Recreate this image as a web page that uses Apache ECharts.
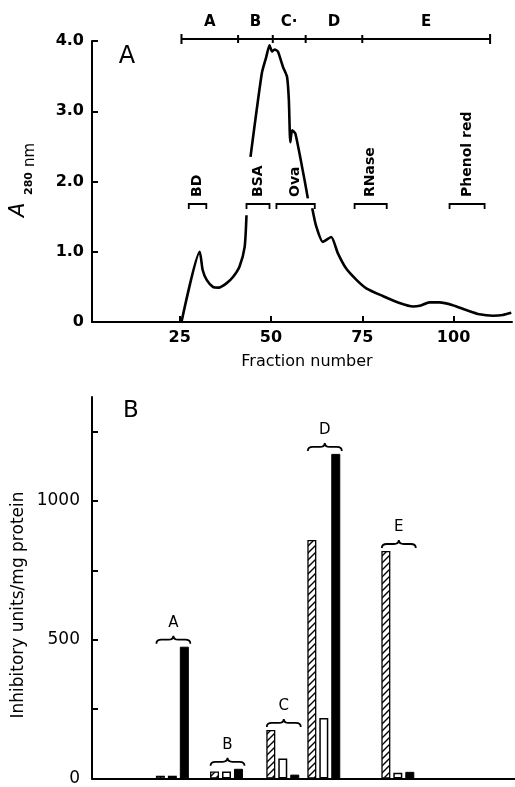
<!DOCTYPE html>
<html><head><meta charset="utf-8">
<script src="https://cdn.jsdelivr.net/npm/echarts@6/dist/echarts.min.js"></script>
<style>html,body{margin:0;padding:0;background:#fff}#c{width:515px;height:787px}</style>
</head><body><div id="c"></div>
<script>
// ---------- Panel A data ----------
const fractionTicks = [25, 50, 75, 100];
const a280Ticks = [0, 1, 2, 3, 4];
const curveFraction = [25.5, 30.5, 31.3, 32.4, 34.1, 35.7, 37.8, 39.6, 41.4, 42.8, 43.3, 43.9,
  44.4, 47.5, 48.7, 49.6, 50.3, 51.0, 51.9, 53.3, 54.4, 54.9, 55.3, 55.8, 56.7, 59.2, 60.1, 60.7,
  61.3, 62.4, 64.2, 66.5, 68.3, 70.6, 73.4, 76.1, 80.6, 85.2, 88.9, 90.7, 93.4, 96.2, 99.8, 103.5, 107.1, 110.8, 113.5, 115.8];
const curveA280 = [0, 1.0, 0.74, 0.6, 0.5, 0.49, 0.55, 0.64, 0.79, 1.07, 1.52, null,
  2.35, 3.54, 3.77, 3.94, 3.85, 3.88, 3.85, 3.63, 3.49, 3.16, 2.56, 2.73, 2.68, 2.02, 1.76, null,
  1.62, 1.36, 1.14, 1.21, 0.98, 0.76, 0.6, 0.48, 0.37, 0.27, 0.22, 0.23, 0.28, 0.28, 0.24, 0.17, 0.11, 0.09, 0.1, 0.13];
const poolNames = ['A', 'B', 'C·', 'D', 'E'];
const poolBounds = [25.5, 41, 50.5, 59.5, 75, 110];
const markerNames = ['BD', 'BSA', 'Ova', 'RNase', 'Phenol red'];
const markerFrom = [27.5, 43.3, 51.5, 72.9, 98.9];
const markerTo = [32.3, 49.6, 62, 81.7, 108.5];

// ---------- Panel B data ----------
const groups = ['A', 'B', 'C', 'D', 'E'];
const groupPos = [19.0, 31.8, 45.1, 54.8, 72.3];
const hatchedVals = [10, 25, 175, 860, 820];
const whiteVals = [10, 25, 72, 218, 21];
const blackVals = [475, 35, 14, 1170, 24];
const inhibTickValues = [250, 500, 750, 1000, 1250];
const inhibLabelValues = [0, 500, 1000];

const FF = "'DejaVu Sans', sans-serif";

function hatchPattern() {
  const c = document.createElement('canvas');
  c.width = 7; c.height = 7;
  const g = c.getContext('2d');
  g.fillStyle = '#fff'; g.fillRect(0, 0, 7, 7);
  g.strokeStyle = '#000'; g.lineWidth = 1.4;
  g.beginPath();
  g.moveTo(-1, 8); g.lineTo(8, -1);
  g.moveTo(-1, 1); g.lineTo(1, -1);
  g.moveTo(6, 8); g.lineTo(8, 6);
  g.stroke();
  return c;
}

const chart = echarts.init(document.getElementById('c'), null, { renderer: 'canvas' });

const curveData = curveFraction.map((x, i) => [x, curveA280[i] === null ? '-' : curveA280[i]]);
const poolData = poolNames.map((n, i) => [poolBounds[i], 4, poolBounds[i + 1]]);
const markerData = markerNames.map((n, i) => [markerFrom[i], 1.68, markerTo[i]]);
const groupMax = groups.map((g, i) => Math.max(hatchedVals[i], whiteVals[i], blackVals[i]));
const braceData = groups.map((g, i) => [groupPos[i], groupMax[i]]);

function txt(text, x, y, font, extra) {
  return Object.assign({
    type: 'text', x: x, y: y,
    style: { text: text, font: font, fill: '#000', align: 'center', verticalAlign: 'middle', textAlign: 'center', textVerticalAlign: 'middle' }
  }, extra || {});
}

const option = {
  animation: false,
  backgroundColor: '#fff',
  grid: [
    { left: 92, top: 41, width: 420, height: 281 },
    { left: 92, top: 397, width: 423, height: 385 }
  ],
  xAxis: [
    {
      gridIndex: 0, type: 'value', min: 1, max: 116,
      axisLine: { lineStyle: { color: '#000', width: 2 } },
      axisTick: { inside: true, length: 6, customValues: fractionTicks, lineStyle: { color: '#000', width: 2 } },
      axisLabel: { customValues: fractionTicks, color: '#000', fontFamily: FF, fontSize: 16, fontWeight: 'bold', margin: 8 },
      splitLine: { show: false }
    },
    {
      gridIndex: 1, type: 'value', min: 0, max: 100,
      axisLine: { lineStyle: { color: '#000', width: 2 } },
      axisTick: { show: false }, axisLabel: { show: false }, splitLine: { show: false }
    }
  ],
  yAxis: [
    {
      gridIndex: 0, type: 'value', min: 0, max: 4, interval: 1,
      axisLine: { show: true, lineStyle: { color: '#000', width: 2 } },
      axisTick: { show: true, inside: true, length: 6, customValues: a280Ticks, lineStyle: { color: '#000', width: 2 } },
      axisLabel: { customValues: a280Ticks, color: '#000', fontFamily: FF, fontSize: 16, fontWeight: 'bold', margin: 8,
        formatter: v => v === 0 ? '0' : v.toFixed(1) },
      splitLine: { show: false }
    },
    {
      gridIndex: 1, type: 'value', min: 0, max: 1375,
      axisLine: { show: true, lineStyle: { color: '#000', width: 2 } },
      axisTick: { show: true, inside: true, length: 6, customValues: inhibTickValues, lineStyle: { color: '#000', width: 2 } },
      axisLabel: { customValues: inhibLabelValues, color: '#000', fontFamily: FF, fontSize: 17, margin: 12,
        formatter: v => String(v) },
      splitLine: { show: false }
    }
  ],
  series: [
    {
      type: 'line', xAxisIndex: 0, yAxisIndex: 0, data: curveData,
      symbol: 'none', smooth: 0.2, connectNulls: false,
      lineStyle: { color: '#000', width: 2.6 }
    },
    {
      type: 'custom', xAxisIndex: 0, yAxisIndex: 0, data: poolData, clip: false,
      encode: { x: [0, 2], y: 1 },
      renderItem: function (params, api) {
        const i = params.dataIndex;
        const p0 = api.coord([api.value(0), api.value(1)]);
        const p1 = api.coord([api.value(2), api.value(1)]);
        const y = p0[1] - 2;
        const ch = [
          { type: 'line', shape: { x1: p0[0], y1: y, x2: p1[0], y2: y }, style: { stroke: '#000', lineWidth: 2 } }
        ];
        const t0 = i === 0 ? 5 : 4;
        ch.push({ type: 'line', shape: { x1: p0[0], y1: y - t0, x2: p0[0], y2: y + t0 }, style: { stroke: '#000', lineWidth: 2 } });
        if (i === poolNames.length - 1) {
          ch.push({ type: 'line', shape: { x1: p1[0], y1: y - 5, x2: p1[0], y2: y + 5 }, style: { stroke: '#000', lineWidth: 2 } });
        }
        ch.push(txt(poolNames[i], (p0[0] + p1[0]) / 2, y - 17, 'bold 15px ' + FF));
        return { type: 'group', children: ch };
      }
    },
    {
      type: 'custom', xAxisIndex: 0, yAxisIndex: 0, data: markerData, clip: false,
      encode: { x: [0, 2], y: 1 },
      renderItem: function (params, api) {
        const i = params.dataIndex;
        const p0 = api.coord([api.value(0), api.value(1)]);
        const p1 = api.coord([api.value(2), api.value(1)]);
        const y = p0[1];
        const cx = (p0[0] + p1[0]) / 2;
        return {
          type: 'group', children: [
            { type: 'polyline', shape: { points: [[p0[0], y + 5], [p0[0], y], [p1[0], y], [p1[0], y + 5]] },
              style: { stroke: '#000', lineWidth: 1.8, fill: null } },
            { type: 'text', x: cx, y: y - 7, rotation: Math.PI / 2,
              style: { text: markerNames[i], font: 'bold 14px ' + FF, fill: '#000', align: 'left', verticalAlign: 'middle', textAlign: 'left', textVerticalAlign: 'middle' } }
          ]
        };
      }
    },
    {
      type: 'bar', xAxisIndex: 1, yAxisIndex: 1, barWidth: 9, barGap: '33%',
      data: groups.map((g, i) => [groupPos[i], hatchedVals[i]]),
      itemStyle: { color: { image: hatchPattern(), repeat: 'repeat' }, borderColor: '#000', borderWidth: 1.3 }
    },
    {
      type: 'bar', xAxisIndex: 1, yAxisIndex: 1, barWidth: 9, barGap: '33%',
      data: groups.map((g, i) => [groupPos[i], whiteVals[i]]),
      itemStyle: { color: '#fff', borderColor: '#000', borderWidth: 1.5 }
    },
    {
      type: 'bar', xAxisIndex: 1, yAxisIndex: 1, barWidth: 9, barGap: '33%',
      data: groups.map((g, i) => [groupPos[i], blackVals[i]]),
      itemStyle: { color: '#000', borderColor: '#000', borderWidth: 1 }
    },
    {
      type: 'custom', xAxisIndex: 1, yAxisIndex: 1, data: braceData, clip: false,
      encode: { x: 0, y: 1 },
      renderItem: function (params, api) {
        const i = params.dataIndex;
        const p = api.coord([api.value(0), api.value(1)]);
        const cx = p[0] + 1, x0 = cx - 17, x1 = cx + 17;
        const yb = p[1] - 3, ym = p[1] - 7, yt = p[1] - 11;
        const d = `M${x0},${yb} Q${x0},${ym} ${x0 + 5},${ym} L${cx - 5},${ym} Q${cx},${ym} ${cx},${yt} Q${cx},${ym} ${cx + 5},${ym} L${x1 - 5},${ym} Q${x1},${ym} ${x1},${yb}`;
        return {
          type: 'group', children: [
            { type: 'path', shape: { pathData: d }, style: { stroke: '#000', lineWidth: 1.8, fill: null } },
            txt(groups[i], cx, p[1] - 24, '15px ' + FF)
          ]
        };
      }
    }
  ],
  graphic: [
    txt('A', 127, 57, '24px ' + FF),
    txt('B', 131, 411, '23px ' + FF),
    txt('Fraction number', 307, 362, '16px ' + FF),
    { type: 'text', x: 19, y: 605, rotation: Math.PI / 2,
      style: { text: 'Inhibitory units/mg protein', font: '17px ' + FF, fill: '#000', align: 'center', verticalAlign: 'middle', textAlign: 'center', textVerticalAlign: 'middle' } },
    { type: 'text', x: 29, y: 217, rotation: Math.PI / 2,
      style: { text: 'A', font: 'italic 21px ' + FF, fill: '#000', align: 'left', verticalAlign: 'bottom', textAlign: 'left', textVerticalAlign: 'bottom' } },
    { type: 'text', x: 35, y: 195, rotation: Math.PI / 2,
      style: { text: '280', font: 'bold 11px ' + FF, fill: '#000', align: 'left', verticalAlign: 'bottom', textAlign: 'left', textVerticalAlign: 'bottom' } },
    { type: 'text', x: 38, y: 167, rotation: Math.PI / 2,
      style: { text: 'nm', font: '15px ' + FF, fill: '#000', align: 'left', verticalAlign: 'bottom', textAlign: 'left', textVerticalAlign: 'bottom' } }
  ]
};
chart.setOption(option);
</script></body></html>
